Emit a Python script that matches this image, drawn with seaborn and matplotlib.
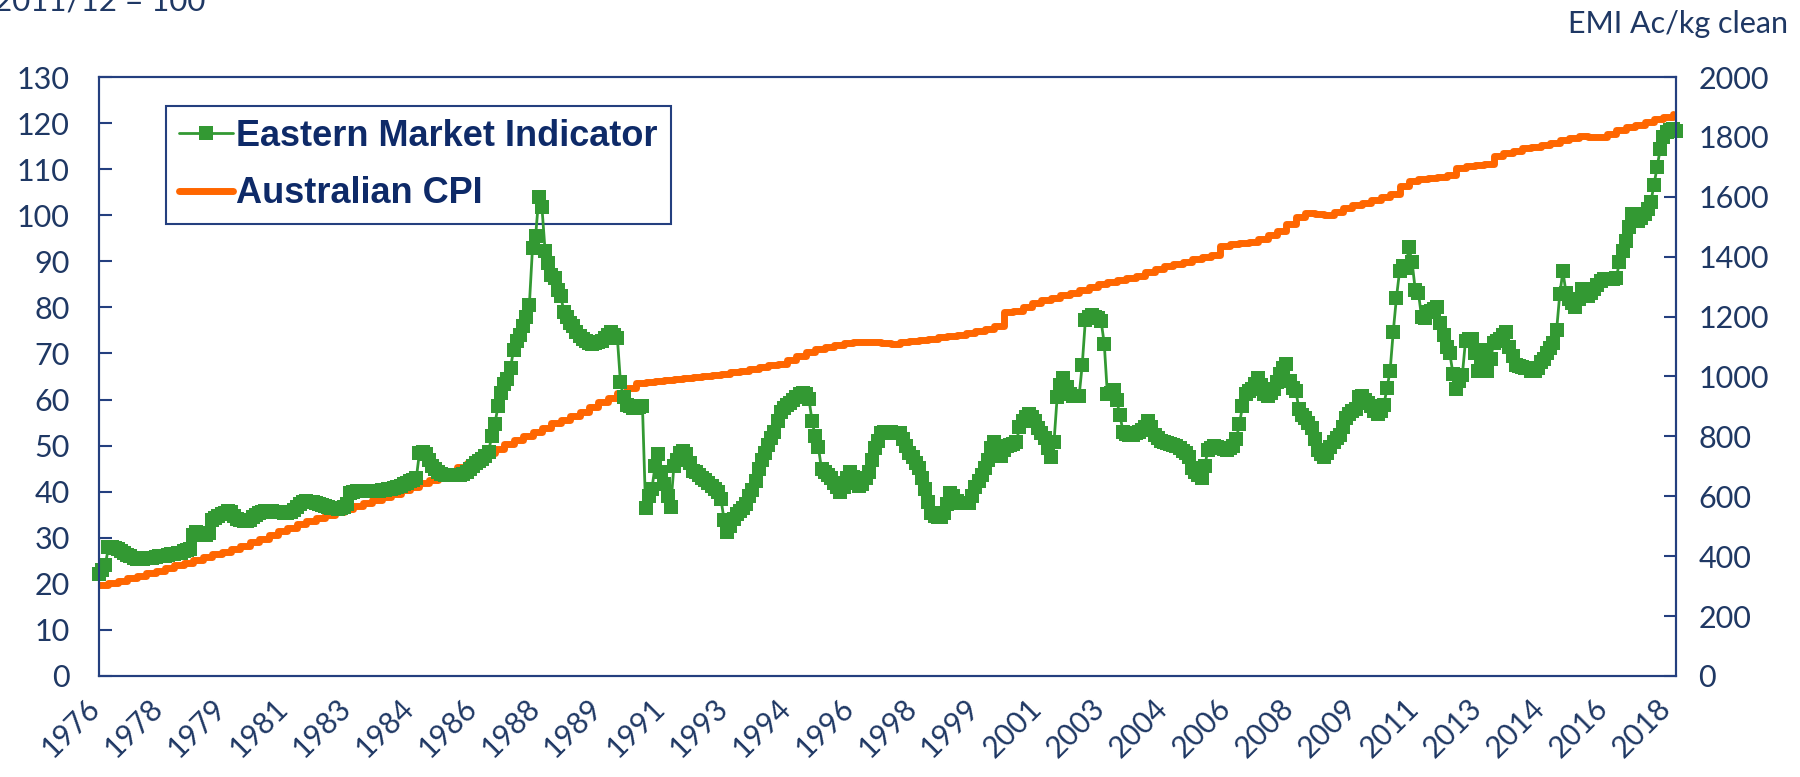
import numpy as np
import pandas as pd
import matplotlib
matplotlib.use("Agg")
import matplotlib.pyplot as plt
import seaborn as sns
from matplotlib.lines import Line2D
from matplotlib.transforms import ScaledTranslation

sns.set_theme(style="white")
plt.rcParams['font.family'] = ['Lato', 'DejaVu Sans']

# monthly EMI (c/kg clean), first point mid-1976
emi = [
    340, 355, 370, 430, 432, 428, 425, 418, 412, 405, 400, 395,
    392, 390, 392, 394, 393, 395, 398, 400, 402, 400, 404, 406,
    408, 410, 412, 416, 420, 425, 470, 482, 478, 474, 472, 476,
    520, 528, 535, 540, 545, 550, 546, 535, 525, 520, 518, 516,
    522, 530, 538, 545, 548, 550, 552, 551, 549, 547, 546, 545,
    545, 548, 555, 565, 575, 582, 583, 582, 580, 578, 575, 572,
    568, 565, 562, 560, 558, 560, 565, 575, 612, 615, 617, 618,
    617, 617, 618, 618, 617, 617, 620, 622, 624, 626, 628, 630,
    634, 640, 646, 652, 655, 660, 745, 748, 740, 720, 700, 690,
    680, 675, 672, 670, 670, 670, 670, 672, 675, 680, 690, 700,
    710, 718, 725, 735, 748, 800, 840, 900, 946, 975, 990, 1030,
    1090, 1120, 1140, 1168, 1200, 1240, 1430, 1470, 1600, 1565, 1420, 1380,
    1340, 1330, 1290, 1270, 1215, 1200, 1180, 1170, 1150, 1135, 1125, 1118,
    1113, 1110, 1112, 1115, 1120, 1130, 1140, 1148, 1140, 1130, 980, 930,
    905, 900, 895, 895, 898, 900, 560, 600, 625, 700, 740, 680,
    640, 600, 565, 700, 720, 745, 752, 740, 710, 685, 680, 670,
    660, 655, 645, 635, 625, 615, 590, 520, 480, 500, 525, 540,
    550, 560, 575, 600, 620, 650, 690, 720, 745, 770, 795, 815,
    850, 880, 895, 905, 910, 920, 930, 940, 945, 940, 925, 850,
    800, 765, 690, 680, 670, 660, 645, 630, 615, 630, 660, 680,
    665, 645, 635, 640, 660, 680, 720, 760, 785, 810, 815, 815,
    815, 812, 810, 810, 790, 768, 745, 730, 710, 695, 660, 625,
    580, 545, 535, 530, 530, 545, 575, 610, 600, 585, 578, 577,
    577, 578, 600, 630, 650, 670, 695, 720, 760, 780, 750, 735,
    755, 768, 772, 776, 780, 830, 850, 865, 875, 865, 850, 828,
    810, 795, 760, 732, 780, 930, 970, 994, 965, 940, 935, 935,
    935, 1040, 1190, 1200, 1205, 1200, 1195, 1185, 1110, 940, 945, 955,
    920, 870, 815, 808, 805, 805, 810, 815, 820, 830, 850, 830,
    805, 795, 785, 780, 778, 775, 770, 768, 760, 752, 745, 730,
    696, 680, 670, 662, 700, 756, 762, 768, 765, 760, 757, 756,
    760, 768, 790, 840, 900, 940, 950, 958, 975, 994, 970, 940,
    935, 945, 958, 980, 1010, 1030, 1042, 985, 960, 952, 890, 870,
    863, 845, 827, 790, 756, 740, 732, 745, 765, 780, 795, 804,
    830, 860, 875, 885,
    890, 930, 935, 920, 911, 900, 885, 875, 885, 905, 960, 1020,
    1150, 1262, 1351, 1368, 1363, 1431, 1381, 1290, 1280, 1200, 1196, 1215,
    1220, 1225, 1232, 1180, 1137, 1100, 1077, 1010, 958, 985, 1006, 1120,
    1125, 1124, 1080, 1018, 1050, 1089, 1018, 1060, 1113, 1120, 1125, 1140,
    1149, 1100, 1070, 1040, 1036, 1033, 1030, 1028, 1020, 1018, 1030, 1048,
    1060, 1077, 1095, 1113, 1155, 1274, 1351, 1280, 1260, 1247, 1232, 1260,
    1292, 1290, 1268, 1280, 1292, 1305, 1320, 1327, 1327, 1327, 1327, 1330,
    1381, 1420, 1452, 1500, 1542, 1530, 1518, 1530, 1542, 1560, 1583, 1640,
    1700, 1760, 1800, 1815, 1822, 1825, 1820,
]

# quarterly CPI (2011/12 = 100), one value every 3 months
cpi = [
    19.7, 20.2, 20.7, 21.2, 21.8, 22.3, 22.8, 23.4, 24.0, 24.6, 25.2, 25.8,
    26.4, 27.0, 27.6, 28.3, 29.0, 29.8, 30.6, 31.4, 32.2, 32.9, 33.6, 34.2,
    34.9, 35.6, 36.3, 37.0, 37.6, 38.2, 38.9, 39.6, 40.3, 41.0, 41.8, 42.6,
    43.5, 44.5, 45.4, 46.3, 47.3, 48.3, 49.3, 50.3, 51.2, 52.1, 53.0, 53.9,
    54.8, 55.6, 56.5, 57.4, 58.4, 59.4, 60.4, 61.5, 62.6, 63.6, 63.8, 64.1,
    64.3, 64.5, 64.6, 64.8, 65.0, 65.3, 65.6, 65.9, 66.2, 66.6, 67.0, 67.4,
    67.8, 68.5, 69.5, 70.4, 71.0, 71.5, 71.9, 72.2, 72.4, 72.5, 72.4, 72.2,
    72.1, 72.4, 72.7, 73.0, 73.2, 73.5, 73.8, 74.0, 74.4, 74.9, 75.4, 76.0,
    78.9, 79.3, 80.1, 80.9, 81.5, 82.0, 82.6, 83.2, 83.8, 84.5, 85.1, 85.5,
    86.0, 86.4, 86.9, 87.6, 88.3, 88.9, 89.4, 89.9, 90.4, 90.9, 91.3, 93.4,
    93.7, 93.9, 94.1, 94.9, 95.7, 96.6, 98.2, 99.6, 100.4, 100.2, 100.1, 100.8,
    101.6, 102.2, 102.7, 103.3, 103.9, 104.5, 106.4, 107.4, 107.8, 108.1, 108.4, 108.7,
    110.2, 110.6, 110.8, 111.2, 112.9, 113.5, 114.0, 114.5, 114.9, 115.3, 115.7, 116.3,
    116.8, 117.2, 117.0, 116.9, 117.6, 118.6, 119.1, 119.6, 120.2, 120.8, 121.4, 121.9,
]

tick_labels = ['1976', '1978', '1979', '1981', '1983', '1984', '1986', '1988', '1989',
               '1991', '1993', '1994', '1996', '1998', '1999', '2001', '2003', '2004',
               '2006', '2008', '2009', '2011', '2013', '2014', '2016', '2018']

emi_df = pd.DataFrame({'month': np.arange(len(emi)), 'emi': emi})
cpi_df = pd.DataFrame({'month': np.arange(len(cpi)) * 3, 'cpi': cpi})

navy = '#243F7F'
label_col = '#1F3864'
legend_col = '#0E2A68'
green = '#339933'
orange = '#FF6600'

fig = plt.figure(figsize=(18, 7.77), dpi=100)
ax = fig.add_axes([0.055, 0.13, 0.8761, 0.7709])
ax2 = ax.twinx()

sns.lineplot(data=cpi_df, x='month', y='cpi', ax=ax, color=orange, linewidth=5,
             drawstyle='steps-post', solid_capstyle='round', legend=False)
sns.lineplot(data=emi_df, x='month', y='emi', ax=ax2, color=green, linewidth=2,
             marker='s', markersize=10.5, markeredgewidth=0, clip_on=False, legend=False)

ax.set_xlim(0, 502)
ax.set_ylim(0, 130)
ax2.set_ylim(0, 2000)
ax.set_yticks(np.arange(0, 131, 10))
ax2.set_yticks(np.arange(0, 2001, 200))
ax.set_xticks(np.arange(0, 501, 20))
ax.set_xticklabels(tick_labels, rotation=45, ha='right', va='top')
ax.set_xlabel('')
ax.set_ylabel('')
ax2.set_ylabel('')

for a in (ax, ax2):
    for s in a.spines.values():
        s.set_color(navy)
        s.set_linewidth(1.5)

ax.tick_params(axis='x', direction='in', length=9, width=1.5, color=navy,
               pad=13, labelsize=21.5, labelcolor=label_col)
ax.tick_params(axis='y', direction='in', length=9, width=1.5, color=navy,
               pad=21, labelsize=22, labelcolor=label_col)
ax2.tick_params(axis='y', direction='in', length=9, width=1.5, color=navy,
                pad=16, labelsize=22, labelcolor=label_col)

shift = ScaledTranslation(6 / 100, 0, fig.dpi_scale_trans)
for lab in ax.get_xticklabels():
    lab.set_transform(lab.get_transform() + shift)

# legend sits on the lower axes so the EMI markers are drawn over it, as in the source
handles = [
    Line2D([], [], color=green, linewidth=2, marker='s', markersize=10.5, markeredgewidth=0),
    Line2D([], [], color=orange, linewidth=5, solid_capstyle='round'),
]
leg = ax.legend(handles, ['Eastern Market Indicator', 'Australian CPI'],
                loc='upper left', bbox_to_anchor=(0.0425, 0.951), borderaxespad=0,
                numpoints=1, handlelength=1.5, handletextpad=0.1, borderpad=0.35,
                labelspacing=0.62, fancybox=False, framealpha=1,
                prop={'family': ['Liberation Sans', 'DejaVu Sans'], 'weight': 'bold', 'size': 26})
leg.get_frame().set_edgecolor(navy)
leg.get_frame().set_linewidth(1.5)
for t in leg.get_texts():
    t.set_color(legend_col)

fig.text(-6 / 1800, 1 - 11 / 777, '2011/12 = 100', ha='left', va='baseline',
         fontsize=22.5, color=label_col)
fig.text(1788 / 1800, 1 - 33 / 777, 'EMI Ac/kg clean', ha='right', va='baseline',
         fontsize=22, color=label_col)

fig.savefig('out.png', dpi=100)
